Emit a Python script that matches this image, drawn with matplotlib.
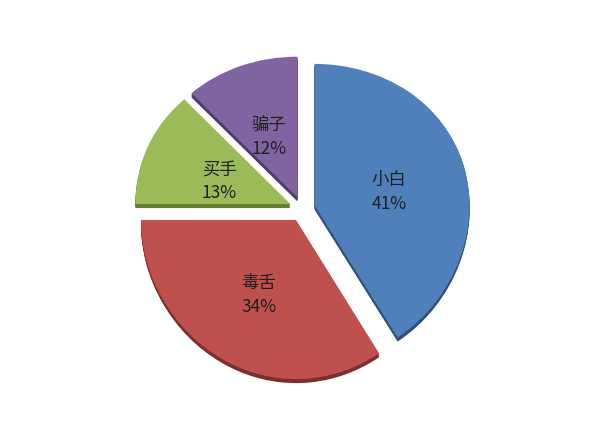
import numpy as np
import matplotlib.pyplot as plt
from matplotlib.transforms import Transform, Affine2D

plt.rcParams['font.family'] = ['Noto Sans CJK SC', 'DejaVu Sans']

# ------------------------------------------------------------------
# Data
# ------------------------------------------------------------------
labels = ["小白", "毒舌", "买手", "骗子"]
values = [41, 34, 13, 12]
colors = ["#4f80bc", "#bf504d", "#9bbb59", "#8064a2"]
side_colors = ["#2f4f78", "#7d2f2d", "#667f33", "#4e3c69"]
explode = [0.083] * len(values)

W, H = 610, 436


# ------------------------------------------------------------------
# Slight tilt: the pie looks shorter on top than at the bottom
# ------------------------------------------------------------------
class Tilt(Transform):
    input_dims = output_dims = 2
    is_separable = False

    def __init__(self, x0, y0, rx, ry, k):
        super().__init__()
        self.x0, self.y0, self.rx, self.ry, self.k = x0, y0, rx, ry, k

    def transform_non_affine(self, values):
        v = np.atleast_2d(np.asarray(values, dtype=float))
        u, w = v[:, 0], v[:, 1]
        return np.column_stack([self.x0 + self.rx * u,
                                self.y0 + self.ry * w - self.k * w ** 2])


fig = plt.figure(figsize=(W / 100, H / 100), dpi=100)
ax = fig.add_axes([0, 0, 1, 1])

tilt = Tilt(302.2, H - 209, 155, 150, 8)

# extruded side first (a few copies pushed down)
for k in range(4, 0, -1):
    side, _ = ax.pie(values, colors=side_colors, explode=explode,
                     startangle=90, counterclock=False, radius=1,
                     wedgeprops=dict(linewidth=0), frame=True)
    for w in side:
        w.set_transform(tilt + Affine2D().translate(0, -k) + ax.transData)
        w.set_zorder(1)

wedges, _, autotexts = ax.pie(
    values, colors=colors, explode=explode, startangle=90,
    counterclock=False, radius=1, autopct="%d%%", pctdistance=0.5,
    wedgeprops=dict(linewidth=0), frame=True,
    textprops=dict(fontsize=12.5, color="#1f1f1f"))

for w in wedges:
    w.set_transform(tilt + ax.transData)
    w.set_zorder(2)

for t, lab, v in zip(autotexts, labels, values):
    t.set_text(f"{lab}\n{v}%")
    t.set_linespacing(1.4)
    t.set_transform(tilt + Affine2D().translate(0, -7) + ax.transData)
    t.set_zorder(3)

ax.set_xlim(0, W)
ax.set_ylim(0, H)
ax.set_aspect("equal")
ax.set_xticks([]); ax.set_yticks([])
for s in ax.spines.values():
    s.set_visible(False)

fig.savefig("out.png", dpi=100, facecolor="white")
